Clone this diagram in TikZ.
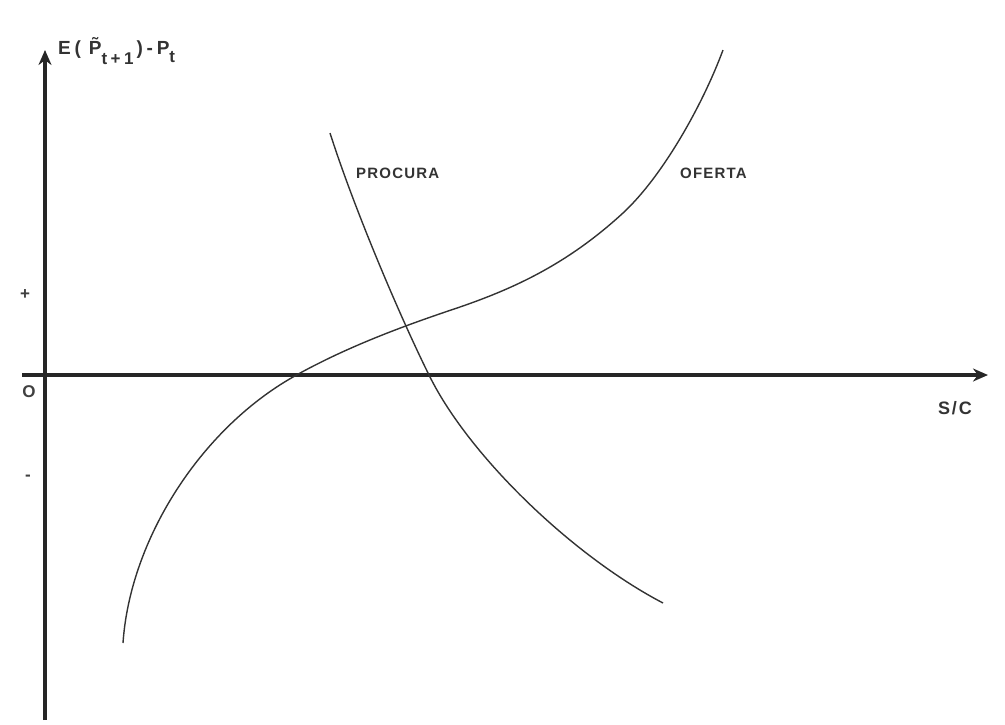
\documentclass[tikz,border=0pt]{standalone}
\usepackage{fontspec}
\setmainfont{Liberation Sans}
\usetikzlibrary{arrows.meta}
\begin{document}
\begin{tikzpicture}[x=1pt,y=-1pt,
  axis/.style={line width=3.6pt,draw=black!85,-{Stealth[length=15pt,width=13pt]}},
  curve/.style={line width=1.4pt,color=black!80},
  lbl/.style={font=\fontsize{15}{16}\selectfont\bfseries\addfontfeatures{LetterSpace=8},text=black!80,inner sep=0pt},
  big/.style={font=\fontsize{18}{19}\selectfont\bfseries\addfontfeatures{LetterSpace=10},text=black!80,inner sep=0pt},
  ybig/.style={font=\fontsize{19}{20}\selectfont\bfseries\addfontfeatures{LetterSpace=20},text=black!80,inner sep=0pt},
  tick/.style={font=\fontsize{17}{18}\selectfont\bfseries,text=black!75,inner sep=0pt}]
\useasboundingbox (0,0) rectangle (1005,724);
\coordinate (ybot) at (45,720);
\coordinate (ytop) at (45,50);
\coordinate (xleft) at (22,375);
\coordinate (xright) at (988,375);
\draw[axis] (ybot) -- (ytop);
\draw[axis] (xleft) -- (xright);
\node[ybig,anchor=west] (ylab) at (58,51) {E(\hspace{8pt}\~{P}\raisebox{-10pt}{\fontsize{17}{18}\selectfont\bfseries\addfontfeatures{LetterSpace=20}t+1}\hspace{3pt})-P\raisebox{-8pt}{\fontsize{17}{18}\selectfont\bfseries t}};
\node[big] (xlab) at (955,408) {S/C};
\node[tick] (plus) at (25,295) {+};
\node[tick] (zero) at (29,392) {O};
\node[tick] (minus) at (28,478) {-};
\draw[curve] (123,643) .. controls (130,540) and (200,430) .. (293,377)
  .. controls (353,343) and (420,320.5) .. (460,307)
  .. controls (515,288) and (568,263.6) .. (623,213)
  .. controls (663,176) and (703,104) .. (723,50);
\draw[curve] (330,133) .. controls (355.6,213) and (402.5,322) .. (430,377)
  .. controls (470,457) and (573,556) .. (663,603);
\node[lbl,anchor=west] (procura) at (356,173) {PROCURA};
\node[lbl,anchor=west] (oferta) at (680,173) {OFERTA};
\end{tikzpicture}
\end{document}
